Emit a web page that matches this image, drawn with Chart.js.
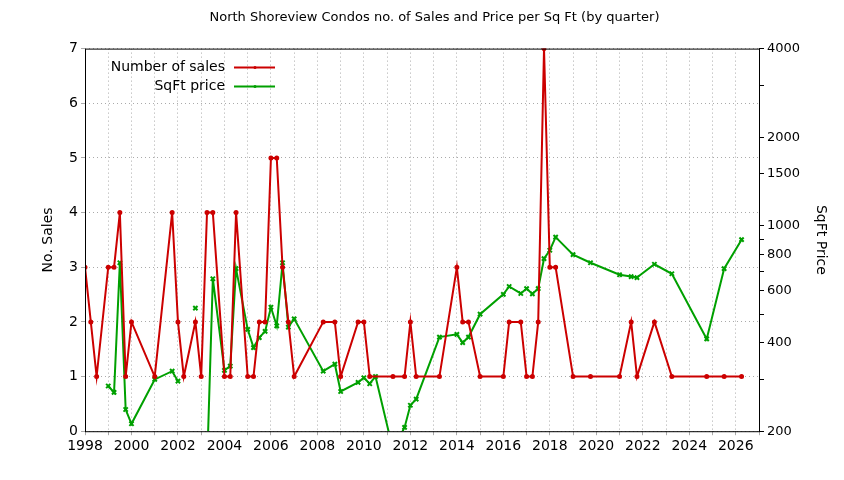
<!DOCTYPE html>
<html><head><meta charset="utf-8">
<script src="https://cdn.jsdelivr.net/npm/chart.js@4"></script>
<style>html,body{margin:0;padding:0;background:#fff}#w{width:844px;height:480px}</style>
</head><body><div id="w"><canvas id="c"></canvas></div>
<script>
const salesX = [1998,1998.25,1998.5,1999,1999.25,1999.5,1999.75,2000,2001,2001.75,2002,2002.25,2002.75,2003,2003.25,2003.5,2004,2004.25,2004.5,2005,2005.25,2005.5,2005.75,2006,2006.25,2006.5,2006.75,2007,2008.25,2008.75,2009,2009.75,2010,2010.25,2011.25,2011.75,2012,2012.25,2013.25,2014,2014.25,2014.5,2015,2016,2016.25,2016.75,2017,2017.25,2017.5,2017.75,2018,2018.25,2019,2019.75,2021,2021.5,2021.75,2022.5,2023.25,2024.75,2025.5,2026.25];
const salesY = [3,2,1,3,3,4,1,2,1,4,2,1,2,1,4,4,1,1,4,1,1,2,2,5,5,3,2,1,2,2,1,2,2,1,1,1,2,1,1,3,2,2,1,1,2,2,1,1,2,7,3,3,1,1,1,2,1,2,1,1,1,1];
const priceX = [1999,1999.25,1999.5,1999.75,2000,2001,2001.75,2002,2002.25,2002.75,2003,2003.25,2003.5,2004,2004.25,2004.5,2005,2005.25,2005.5,2005.75,2006,2006.25,2006.5,2006.75,2007,2008.25,2008.75,2009,2009.75,2010,2010.25,2010.5,2011.25,2011.75,2012,2012.25,2013.25,2014,2014.25,2014.5,2015,2016,2016.25,2016.75,2017,2017.25,2017.5,2017.75,2018,2018.25,2019,2019.75,2021,2021.5,2021.75,2022.5,2023.25,2024.75,2025.5,2026.25];
const priceY = [285,271,748,237,212,300,320,296,null,524,null,150,660,322,333,714,444,385,416,437,528,456,748,452,482,320,338,273,293,304,290,307,173,206,245,257,418,427,400,418,500,584,621,588,611,586,611,772,825,914,797,748,681,671,666,739,686,412,714,896];
const rightTicks = [200,300,400,500,600,700,800,900,1000,1500,2000,3000,4000];
const rightLabels = [200,400,600,800,1000,1500,2000,4000];
const FONT = "DejaVu Sans";
const RED = "#cc0000", GREEN = "#00a000";
const pts = (xs, ys) => xs.map((x,i)=>({x, y: ys[i]}));
const dots = {color:'#aaa', lineWidth:1};
const frame = {
  id:'frame',
  afterDraw(ch){
    const {ctx, chartArea:a} = ch;
    ctx.save();
    ctx.strokeStyle='#000'; ctx.lineWidth=1;
    ctx.strokeRect(a.left+0.5, a.top+0.5, a.right-a.left, a.bottom-a.top);
    ctx.font = "14px "+FONT; ctx.fillStyle='#000'; ctx.textAlign='right'; ctx.textBaseline='middle';
    const items=[["Number of sales",RED,19],["SqFt price",GREEN,38]];
    items.forEach(([t,c,dy])=>{
      const y=a.top+dy, x0=a.left+140;
      ctx.fillText(t, x0, y);
      ctx.strokeStyle=c; ctx.lineWidth=2;
      ctx.beginPath(); ctx.moveTo(x0+9,y); ctx.lineTo(x0+50,y); ctx.stroke();
      ctx.fillStyle=c; ctx.beginPath(); ctx.arc(x0+30,y,1.5,0,7); ctx.fill();
      ctx.fillStyle='#000';
    });
    ctx.restore();
  }
};
new Chart(document.getElementById('c'), {
  type:'line',
  data:{datasets:[
    {label:'Number of sales', data:pts(salesX,salesY), yAxisID:'y', borderColor:RED, backgroundColor:RED, borderWidth:2, pointRadius:1.5, pointStyle:'circle', tension:0},
    {label:'SqFt price', data:pts(priceX,priceY), yAxisID:'y2', borderColor:GREEN, backgroundColor:GREEN, borderWidth:2, pointRadius:3, pointStyle:'crossRot', pointBorderWidth:2, spanGaps:false, tension:0}
  ]},
  options:{
    responsive:true, maintainAspectRatio:false, animation:false,
    layout:{padding:{top:0,bottom:22,left:40,right:15}},
    plugins:{legend:{display:false}, tooltip:{enabled:false},
      title:{display:true, text:'North Shoreview Condos no. of Sales and Price per Sq Ft (by quarter)', font:{family:FONT,size:13,weight:'normal'}, color:'#000', padding:{top:10,bottom:23}}},
    scales:{
      x:{type:'linear', min:1998, max:2027, afterBuildTicks(s){s.ticks=[];for(let y=1998;y<=2027;y++)s.ticks.push({value:y});},
        ticks:{autoSkip:false, maxRotation:0, color:'#000', font:{family:FONT,size:14}, callback:v=>v%2===0?String(v):''},
        grid:{...dots, tickLength:4}, border:{display:false, dash:[1,3]}},
      y:{type:'linear', position:'left', min:0, max:7, ticks:{stepSize:1, color:'#000', font:{family:FONT,size:14}},
        grid:{...dots, tickLength:4}, border:{display:false, dash:[1,3]},
        title:{display:true, text:'No. Sales', color:'#000', font:{family:FONT,size:14}, padding:0},
        afterFit(s){s.width=45;}},
      y2:{type:'logarithmic', position:'right', min:200, max:4000,
        afterBuildTicks(s){s.ticks=rightTicks.map(v=>({value:v}));},
        ticks:{autoSkip:false, color:'#000', font:{family:FONT,size:13}, callback:v=>rightLabels.includes(v)?String(v):''},
        grid:{drawOnChartArea:false, tickLength:5, color:'#000'}, border:{display:false},
        title:{display:true, text:'SqFt Price', color:'#000', font:{family:FONT,size:14}, padding:0},
        afterFit(s){s.width=70;}}
    }
  },
  plugins:[frame]
});
</script></body></html>
